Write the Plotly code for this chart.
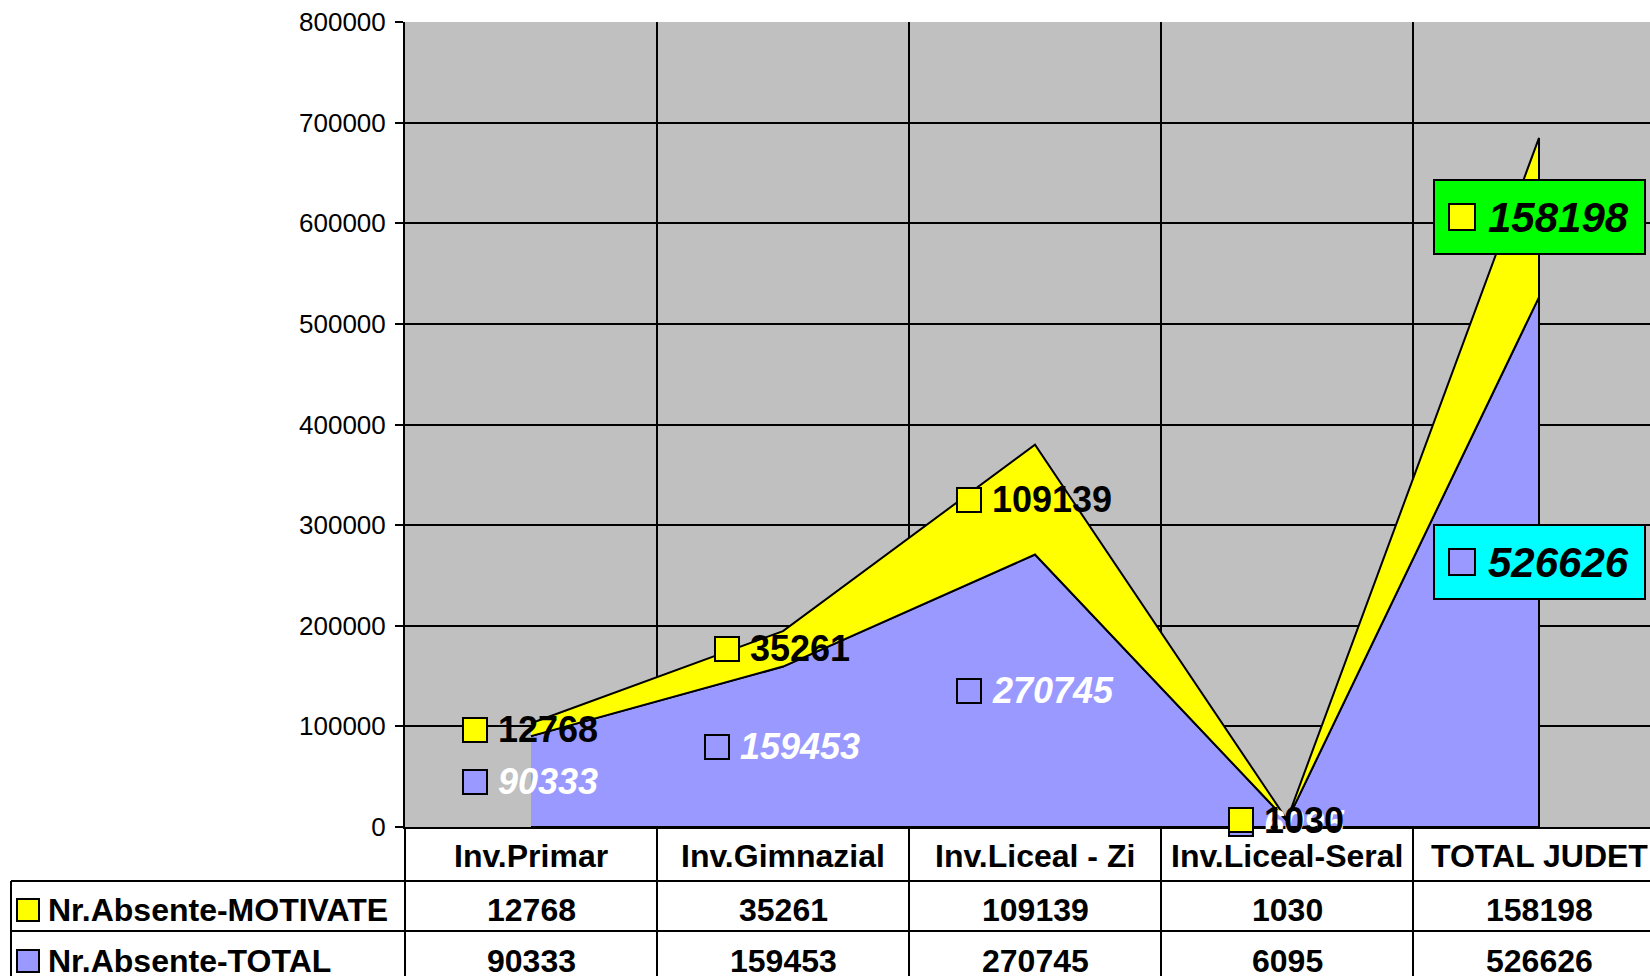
import plotly.graph_objects as go

# ============================================================
# Data
# ============================================================
categories = ["Inv.Primar", "Inv.Gimnazial", "Inv.Liceal - Zi", "Inv.Liceal-Seral", "TOTAL JUDET"]
motivate = [12768, 35261, 109139, 1030, 158198]
total = [90333, 159453, 270745, 6095, 526626]
series_names = ["Nr.Absente-MOTIVATE", "Nr.Absente-TOTAL"]
y_ticks = [0, 100000, 200000, 300000, 400000, 500000, 600000, 700000, 800000]

COLORS = {
    "plot_bg": "#C0C0C0",
    "yellow": "#FFFF00",
    "lavender": "#9999FF",
    "green": "#00FF00",
    "cyan": "#00FFFF",
    "line": "#000000",
}
FONT = "Liberation Sans, Arial, sans-serif"

# pixel geometry of the plot area
WIDTH, HEIGHT = 1650, 976
L, T = 405, 22
PW, PH = WIDTH - L, 805
CAT_W = 252
X_LO = -0.5
X_HI = X_LO + PW / CAT_W


def px_x(px):
    return (px - L) / PW


def px_y(py):
    return (T + PH - py) / PH


idx = list(range(len(categories)))
top = [t + m for t, m in zip(total, motivate)]

fig = go.Figure()

# TOTAL area (bottom)
fig.add_trace(go.Scatter(
    x=idx + idx[::-1], y=total + [0] * len(idx),
    fill="toself", fillcolor=COLORS["lavender"], mode="lines",
    line=dict(color=COLORS["line"], width=2), name=series_names[1],
    hoverinfo="skip",
))
# MOTIVATE area stacked on top
fig.add_trace(go.Scatter(
    x=idx + idx[::-1], y=top + total[::-1],
    fill="toself", fillcolor=COLORS["yellow"], mode="lines",
    line=dict(color=COLORS["line"], width=2), name=series_names[0],
    hoverinfo="skip",
))

annotations = []
shapes = []


def key_square(x, y, xref, yref, color, size, xshift=0, yshift=0):
    return dict(
        x=x, y=y, xref=xref, yref=yref, text=" ", showarrow=False,
        width=size, height=size, bgcolor=color, bordercolor=COLORS["line"],
        borderwidth=2, borderpad=0, xshift=xshift, yshift=yshift,
        xanchor="center", yanchor="middle",
    )


def data_label(i, y, value, color, font_color, italic, box=None):
    s = str(value)
    if box:
        fsize, sq, gap = 42, 24, 14
    else:
        fsize, sq, gap = 36, 22, 12
    textw = len(s) * 0.556 * fsize
    group = sq + gap + textw
    if box:
        annotations.append(dict(
            x=i, y=y, xref="x", yref="y", text=" ", showarrow=False,
            width=207, height=70, bgcolor=box, bordercolor=COLORS["line"],
            borderwidth=2, borderpad=1, xanchor="center", yanchor="middle",
        ))
    annotations.append(key_square(i, y, "x", "y", color, sq, xshift=-group / 2 + sq / 2))
    text = f"<b><i>{s}</i></b>" if italic else f"<b>{s}</b>"
    annotations.append(dict(
        x=i, y=y, xref="x", yref="y", text=text, showarrow=False,
        xanchor="left", yanchor="middle", xshift=-group / 2 + sq + gap - 2,
        font=dict(family=FONT, size=fsize, color=font_color),
    ))


last = len(categories) - 1
# lavender labels first (yellow ones sit above)
for i in idx:
    if i == last:
        data_label(i, total[i] / 2, total[i], COLORS["lavender"], "black", True, box=COLORS["cyan"])
    else:
        data_label(i, total[i] / 2, total[i], COLORS["lavender"], "white", True)
for i in idx:
    y = total[i] + motivate[i] / 2
    if i == last:
        data_label(i, y, motivate[i], COLORS["yellow"], "black", True, box=COLORS["green"])
    else:
        data_label(i, y, motivate[i], COLORS["yellow"], "black", False)

# ============================================================
# Data table under the plot
# ============================================================
row_header, row1, row2 = 856, 910, 961
line_style = dict(color=COLORS["line"], width=2)

for py in (881, 931):
    shapes.append(dict(type="line", xref="paper", yref="paper",
                       x0=px_x(11), x1=1, y0=px_y(py), y1=px_y(py), line=line_style))
shapes.append(dict(type="line", xref="paper", yref="paper",
                   x0=px_x(11), x1=px_x(11), y0=px_y(881), y1=px_y(1000), line=line_style))
shapes.append(dict(type="line", xref="paper", yref="paper",
                   x0=0, x1=0, y0=0, y1=px_y(1000), line=line_style))
for i in idx:
    shapes.append(dict(type="line", xref="x", yref="paper",
                       x0=i + 0.5, x1=i + 0.5, y0=0, y1=px_y(1000), line=line_style))

for i, cat in enumerate(categories):
    annotations.append(dict(x=i, y=px_y(row_header), xref="x", yref="paper",
                            text=f"<b>{cat}</b>", showarrow=False, yanchor="middle",
                            font=dict(family=FONT, size=32, color="black")))
    annotations.append(dict(x=i, y=px_y(row1), xref="x", yref="paper",
                            text=f"<b>{motivate[i]}</b>", showarrow=False, yanchor="middle",
                            font=dict(family=FONT, size=32, color="black")))
    annotations.append(dict(x=i, y=px_y(row2), xref="x", yref="paper",
                            text=f"<b>{total[i]}</b>", showarrow=False, yanchor="middle",
                            font=dict(family=FONT, size=32, color="black")))

for py, name, color in ((row1, series_names[0], COLORS["yellow"]),
                        (row2, series_names[1], COLORS["lavender"])):
    annotations.append(key_square(px_x(28), px_y(py), "paper", "paper", color, 20))
    annotations.append(dict(x=px_x(46), y=px_y(py), xref="paper", yref="paper",
                            text=f"<b>{name}</b>", showarrow=False,
                            xanchor="left", yanchor="middle",
                            font=dict(family=FONT, size=32, color="black")))

fig.update_layout(
    width=WIDTH, height=HEIGHT,
    margin=dict(l=L, r=0, t=T, b=HEIGHT - T - PH, pad=0),
    paper_bgcolor="white",
    plot_bgcolor=COLORS["plot_bg"],
    showlegend=False,
    font=dict(family=FONT, color="black"),
    annotations=annotations,
    shapes=shapes,
)
fig.update_xaxes(
    range=[X_LO, X_HI], tickvals=[i + 0.5 for i in idx], showticklabels=False,
    ticks="", showgrid=True, gridcolor=COLORS["line"], gridwidth=2,
    showline=True, linecolor=COLORS["line"], linewidth=2, zeroline=False,
)
fig.update_yaxes(
    range=[0, 800000], tickvals=y_ticks, tickformat="d",
    ticks="outside", ticklen=8, tickwidth=2, tickcolor=COLORS["line"],
    ticklabelstandoff=4,
    tickfont=dict(family=FONT, size=26, color="black"),
    showgrid=True, gridcolor=COLORS["line"], gridwidth=2,
    showline=True, linecolor=COLORS["line"], linewidth=2, zeroline=False,
)

# page body margin would shift the figure by 8px
fig.write_html("out.html", config={"displayModeBar": False},
               post_script="document.body.style.margin='0px';")
